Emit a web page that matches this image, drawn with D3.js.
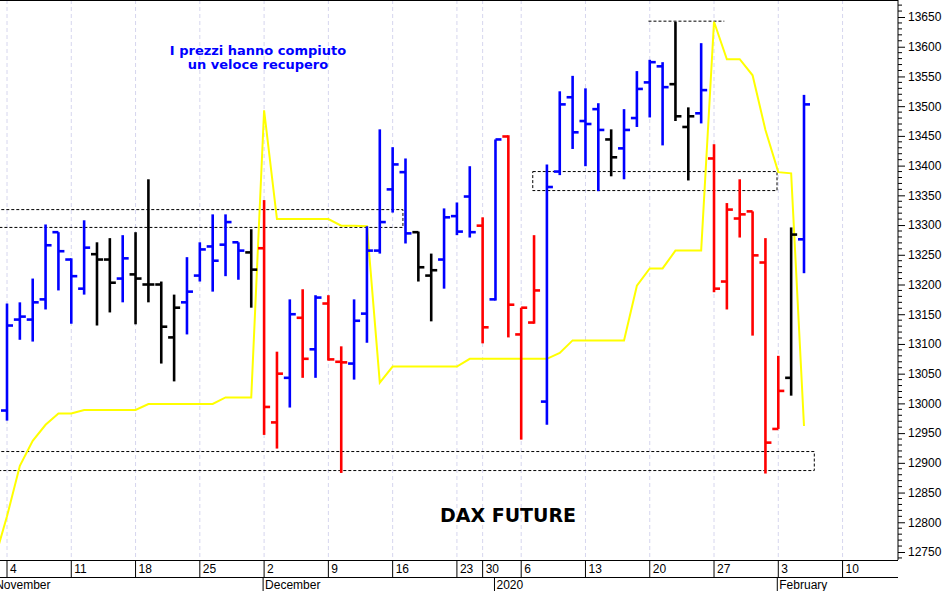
<!DOCTYPE html>
<html>
<head>
<meta charset="utf-8">
<script src="https://cdn.jsdelivr.net/npm/d3@7"></script>
<style>
  body { margin: 0; background: #fff; }
  text { font-family: "Liberation Sans", Arial, sans-serif; }
</style>
</head>
<body>
<svg id="chart" width="947" height="591"></svg>
<script>
// trading days, index 0 = 4 Nov 2019
var days = ["11-04","11-05","11-06","11-07","11-08","11-11","11-12","11-13","11-14","11-15",
  "11-18","11-19","11-20","11-21","11-22","11-25","11-26","11-27","11-28","11-29",
  "12-02","12-03","12-04","12-05","12-06","12-09","12-10","12-11","12-12","12-13",
  "12-16","12-17","12-18","12-19","12-20","12-23","12-27","12-30","01-02","01-03",
  "01-06","01-07","01-08","01-09","01-10","01-13","01-14","01-15","01-16","01-17",
  "01-20","01-21","01-22","01-23","01-24","01-27","01-28","01-29","01-30","01-31",
  "02-03","02-04","02-05"];

var opens  = [12988,13141,13141,13175,13288,13242,13193,13251,13242,13210,13217,13200,13200,13111,13170,13215,13264,13267,13271,13254,
  13261,12968,13043,13144,13091,13168,13070,13067,13151,13257,13360,13389,13288,13215,13242,13315,13348,13299,13175,13449,
  13116,13136,13003,13390,13515,13475,13495,13444,13429,13480,13540,13567,13537,13465,13488,13412,13205,13311,13323,13237,
  12957,13043,13276];
var highs  = [13168,13170,13210,13301,13288,13244,13308,13271,13278,13283,13288,13377,13205,13183,13246,13271,13318,13318,13271,13293,
  13342,13087,13175,13192,13182,13182,13096,13175,13298,13461,13431,13412,13289,13252,13328,13338,13399,13313,13444,13451,
  13161,13283,13402,13525,13551,13530,13505,13461,13495,13559,13578,13574,13642,13498,13606,13436,13337,13377,13323,13278,
  13080,13296,13519];
var lows   = [12971,13107,13104,13158,13190,13134,13183,13131,13153,13170,13133,13170,13067,13037,13116,13205,13188,13214,13208,13161,
  12947,12924,12993,13043,13043,13072,12883,13040,13102,13252,13321,13269,13205,13138,13193,13283,13279,13101,13173,13111,
  12939,13134,12964,13384,13428,13399,13357,13382,13377,13465,13481,13434,13475,13375,13471,13187,13158,13279,13114,12882,
  12957,13013,13219];
var closes = [13131,13146,13170,13266,13256,13214,13262,13242,13203,13244,13210,13200,13129,13161,13188,13259,13240,13305,13257,13225,
  12994,13050,13150,13075,13178,13074,13069,13139,13257,13305,13402,13286,13229,13224,13313,13289,13288,13128,13444,13166,
  13161,13190,13364,13503,13456,13470,13460,13414,13460,13529,13574,13532,13483,13483,13527,13193,13326,13318,13249,12934,
  13021,13284,13503];
var barColors = ["b","b","b","b","b","b","b","k","k","b","k","k","k","k","b","b","b","b","b","k",
  "r","r","b","r","b","r","r","b","b","b","b","b","k","k","b","b","b","r","b","r",
  "r","r","b","b","b","b","b","k","b","b","b","b","k","k","b","r","r","r","r","r",
  "r","k","b"];

// yellow indicator line, first value is the day before index 0 (31 Oct)
var yellow = [12735,12810,12895,12937,12964,12983,12983,12989,12989,12989,12989,12989,12999,12999,12999,12999,12999,12999,13010,13010,13010,
  13493,13310,13310,13310,13310,13310,13299,13299,13298,13035,13062,13062,13062,13062,13062,13062,13075,13075,13075,13075,
  13075,13075,13075,13085,13106,13106,13106,13106,13106,13198,13227,13227,13257,13257,13257,13642,13579,13579,13552,13460,
  13389,13387,12962];

// support / resistance zones: [fromIndex, toIndex, top, bottom]
var zones = [[-2, 30.8, 13326, 13296], [-2, 62.8, 12919, 12887], [40.9, 59.9, 13390, 13358]];
var zoneLines = [[49.9, 55.8, 13643]];

var weekIdx = [0,5,10,15,20,25,30,35,37,40,45,50,55,60,65];
var weekLabels = ["4","11","18","25","2","9","16","23","30","6","13","20","27","3","10"];
var monthIdx = [-1,20,38,60];
var monthLabels = ["November","December","2020","February"];
var yTicks = d3.range(12750, 13651, 50);

var svg = d3.select("#chart");
var W = 898, H = 560;
var colorMap = { b: "#0000ff", r: "#ff0000", k: "#000000" };

var x = d3.scaleLinear().domain([0, 62]).range([7, 804]);
var y = d3.scaleLinear().domain([12750, 13650]).range([552, 17]);

var clip = svg.append("clipPath").attr("id", "clip").append("rect")
  .attr("x", 0).attr("y", 0).attr("width", W).attr("height", H);
var plot = svg.append("g").attr("clip-path", "url(#clip)");

// week grid
plot.selectAll(".grid").data(weekIdx).enter().append("line")
  .attr("x1", d => x(d)).attr("x2", d => x(d)).attr("y1", 0).attr("y2", H)
  .attr("stroke", "#d6d6ee").attr("stroke-dasharray", "4,3");

// zones
plot.selectAll(".zone").data(zones).enter().append("rect")
  .attr("x", d => x(d[0])).attr("y", d => y(d[2]))
  .attr("width", d => x(d[1]) - x(d[0])).attr("height", d => y(d[3]) - y(d[2]))
  .attr("fill", "none").attr("stroke", "#000").attr("stroke-dasharray", "3,2");
plot.selectAll(".zl").data(zoneLines).enter().append("line")
  .attr("x1", d => x(d[0])).attr("x2", d => x(d[1]))
  .attr("y1", d => y(d[2])).attr("y2", d => y(d[2]))
  .attr("stroke", "#000").attr("stroke-dasharray", "3,2");

// yellow line
plot.append("path").datum(yellow)
  .attr("d", d3.line().x((d, i) => x(i - 1)).y(d => y(d)))
  .attr("fill", "none").attr("stroke", "#ffff00").attr("stroke-width", 2);

// OHLC bars
var bars = plot.selectAll(".bar").data(days).enter().append("g")
  .attr("stroke", (d, i) => colorMap[barColors[i]]).attr("stroke-width", 2.6);
bars.append("line").attr("x1", (d, i) => x(i)).attr("x2", (d, i) => x(i))
  .attr("y1", (d, i) => y(highs[i])).attr("y2", (d, i) => y(lows[i]));
bars.append("line").attr("x1", (d, i) => x(i) - 6).attr("x2", (d, i) => x(i))
  .attr("y1", (d, i) => y(opens[i])).attr("y2", (d, i) => y(opens[i]));
bars.append("line").attr("x1", (d, i) => x(i)).attr("x2", (d, i) => x(i) + 6)
  .attr("y1", (d, i) => y(closes[i])).attr("y2", (d, i) => y(closes[i]));

// frame
svg.append("line").attr("x1", 0).attr("x2", W).attr("y1", 0.5).attr("y2", 0.5).attr("stroke", "#000");

// right axis with minor ticks
var yAxis = svg.append("g").attr("transform", "translate(" + W + ",0)")
  .call(d3.axisRight(y).tickValues(yTicks).tickFormat(d3.format("d")).tickSize(7).tickPadding(3));
yAxis.select(".domain").attr("d", "M0,0V" + H);
yAxis.selectAll("text").attr("font-size", 12).attr("fill", "#000");
yAxis.selectAll(".minor").data(d3.range(12740, 13681, 10).filter(v => v % 50 !== 0)).enter()
  .append("line").attr("x1", 0).attr("x2", 4).attr("y1", d => y(d)).attr("y2", d => y(d))
  .attr("stroke", "#000");

// bottom date axis
var xa = svg.append("g");
xa.append("line").attr("x1", 0).attr("x2", W).attr("y1", H + 0.5).attr("y2", H + 0.5).attr("stroke", "#000");
xa.append("line").attr("x1", 0).attr("x2", W).attr("y1", 577.5).attr("y2", 577.5).attr("stroke", "#000");
xa.selectAll(".wk").data(weekIdx).enter().append("line")
  .attr("x1", d => x(d)).attr("x2", d => x(d)).attr("y1", H).attr("y2", 577).attr("stroke", "#000");
xa.selectAll(".wkt").data(weekIdx).enter().append("text")
  .attr("x", d => x(d) + 3).attr("y", 573).attr("font-size", 12)
  .text((d, i) => weekLabels[i]);
xa.selectAll(".mo").data(monthIdx).enter().append("line")
  .attr("x1", d => x(d) - 1).attr("x2", d => x(d) - 1).attr("y1", 577).attr("y2", 591).attr("stroke", "#000");
xa.selectAll(".mot").data(monthIdx).enter().append("text")
  .attr("x", d => x(d) + 1).attr("y", 589).attr("font-size", 12)
  .text((d, i) => monthLabels[i]);

// annotations
svg.append("text").attr("x", 258).attr("y", 55).attr("text-anchor", "middle")
  .attr("fill", "#0000ff").attr("font-weight", "bold").attr("font-size", 13)
  .style("font-family", "DejaVu Sans, Verdana, sans-serif").text("I prezzi hanno compiuto");
svg.append("text").attr("x", 258).attr("y", 69).attr("text-anchor", "middle")
  .attr("fill", "#0000ff").attr("font-weight", "bold").attr("font-size", 13)
  .style("font-family", "DejaVu Sans, Verdana, sans-serif").text("un veloce recupero");
svg.append("text").attr("x", 508).attr("y", 522).attr("text-anchor", "middle")
  .attr("fill", "#000").attr("font-weight", "bold").attr("font-size", 19)
  .style("font-family", "DejaVu Sans, Verdana, sans-serif").text("DAX FUTURE");
</script>
</body>
</html>
